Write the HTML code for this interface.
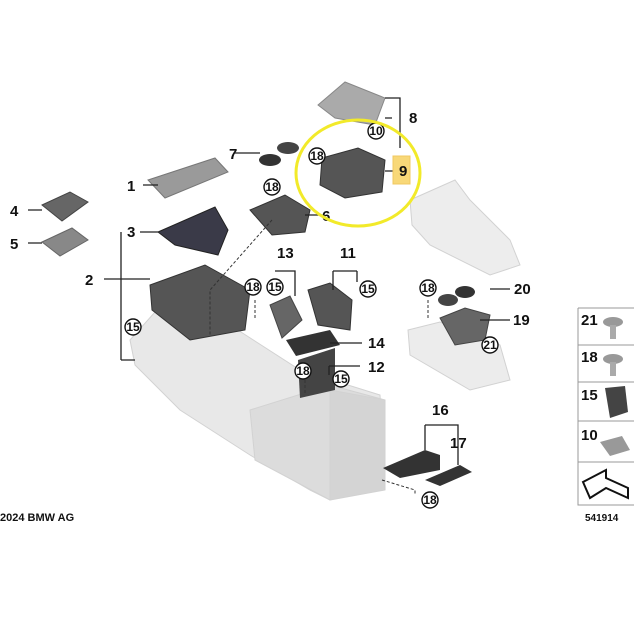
<!DOCTYPE html>
<html><head><meta charset="utf-8"><style>
body{margin:0;background:#fff;width:634px;height:623px;overflow:hidden}
svg{display:block}
text{font-family:"Liberation Sans",Arial,sans-serif;font-weight:bold;fill:#111}
.l{stroke:#222;stroke-width:1.3;fill:none}
.d{stroke:#333;stroke-width:1;fill:none;stroke-dasharray:3 2}
.c{fill:#fff;stroke:#111;stroke-width:1.4}
.ct{font-size:12px;text-anchor:middle}
.n{font-size:15px}
</style></head><body>
<svg width="634" height="623" viewBox="0 0 634 623">
<g fill="#e8e8e8" stroke="#d2d2d2" stroke-width="1">
<path d="M130 340 L155 312 L230 325 L300 370 L380 395 L385 480 L330 500 L310 490 L250 455 L180 410 L135 365 Z"/>
<path d="M250 410 L330 385 L385 400 L385 485 L330 500 L255 460 Z" fill="#dcdcdc"/>
<path d="M330 390 L385 400 L385 490 L330 500 Z" fill="#d4d4d4"/>
<path d="M410 200 L455 180 L470 200 L510 240 L520 265 L490 275 L430 245 L412 225 Z" fill="#ededed"/>
<path d="M408 330 L440 322 L500 345 L510 380 L470 390 L410 355 Z" fill="#ececec"/>
</g>
<path d="M148 180 L215 158 L228 172 L165 198 Z" fill="#9a9a9a" stroke="#777"/>
<path d="M42 205 L70 192 L88 202 L62 221 Z" fill="#666" stroke="#444"/>
<path d="M42 242 L72 228 L88 240 L60 256 Z" fill="#888" stroke="#666"/>
<path d="M158 232 L215 207 L228 230 L218 255 L175 245 Z" fill="#3a3a48" stroke="#222"/>
<path d="M150 285 L205 265 L250 290 L245 330 L190 340 L152 310 Z" fill="#555" stroke="#333"/>
<ellipse cx="270" cy="160" rx="11" ry="6" fill="#333"/><ellipse cx="288" cy="148" rx="11" ry="6" fill="#444"/>
<path d="M250 210 L285 195 L310 210 L305 232 L272 235 Z" fill="#555" stroke="#333"/>
<path d="M322 158 L358 148 L385 160 L382 192 L345 198 L320 185 Z" fill="#555" stroke="#333"/>
<path d="M318 105 L345 82 L385 98 L375 125 L335 118 Z" fill="#aaa" stroke="#888"/>
<path d="M270 305 L290 296 L302 320 L282 338 Z" fill="#666" stroke="#444"/>
<path d="M308 290 L330 283 L352 300 L350 330 L318 325 Z" fill="#555" stroke="#333"/>
<path d="M286 340 L330 330 L340 345 L296 356 Z" fill="#333"/>
<path d="M298 360 L335 348 L335 390 L300 398 Z" fill="#444"/>
<path d="M383 468 L425 450 L440 455 L440 470 L400 478 Z" fill="#333"/>
<path d="M425 480 L460 465 L472 472 L440 486 Z" fill="#333"/>
<ellipse cx="448" cy="300" rx="10" ry="6" fill="#444"/><ellipse cx="465" cy="292" rx="10" ry="6" fill="#333"/>
<path d="M440 318 L465 308 L490 315 L485 340 L455 345 Z" fill="#666" stroke="#444"/>
<path class="l" d="M143 185 H158 M28 210 H42 M28 243 H42 M140 232 H158 M121 232 V360 M121 360 H135 M104 279 H150 M234 153 H260 M305 215 H322 M385 98 H400 V148 M385 118 H392 M385 171 H396 M275 271 H295 V296 M333 271 H357 M333 271 V290 M357 271 V282 M330 343 H362 M329 366 H360 M329 366 V375 M425 425 V450 M425 425 H458 V465 M490 289 H510 M480 320 H510"/>
<path class="d" d="M272 220 L210 290 V335 M255 300 V320 M372 130 V140 M305 380 V395 M428 300 V320 M382 480 L415 490 V495"/>
<rect x="393" y="156" width="17" height="28" fill="#f8d878" stroke="#f0c860"/>
<text class="n" x="127" y="191">1</text>
<text class="n" x="85" y="285">2</text>
<text class="n" x="127" y="237">3</text>
<text class="n" x="10" y="216">4</text>
<text class="n" x="10" y="249">5</text>
<text class="n" x="322" y="221">6</text>
<text class="n" x="229" y="159">7</text>
<text class="n" x="409" y="123">8</text>
<text class="n" x="399" y="176">9</text>
<text class="n" x="277" y="258">13</text>
<text class="n" x="340" y="258">11</text>
<text class="n" x="368" y="348">14</text>
<text class="n" x="368" y="372">12</text>
<text class="n" x="432" y="415">16</text>
<text class="n" x="450" y="448">17</text>
<text class="n" x="513" y="325">19</text>
<text class="n" x="514" y="294">20</text>
<g class="c"><circle cx="133" cy="327" r="8"/><circle cx="272" cy="187" r="8"/><circle cx="253" cy="287" r="8"/><circle cx="275" cy="287" r="8"/><circle cx="317" cy="156" r="8"/><circle cx="376" cy="131" r="8"/><circle cx="368" cy="289" r="8"/><circle cx="303" cy="371" r="8"/><circle cx="341" cy="379" r="8"/><circle cx="428" cy="288" r="8"/><circle cx="490" cy="345" r="8"/><circle cx="430" cy="500" r="8"/></g>
<g class="ct"><text x="133" y="331">15</text><text x="272" y="191">18</text><text x="253" y="291">18</text><text x="275" y="291">15</text><text x="317" y="160">18</text><text x="376" y="135">10</text><text x="368" y="293">15</text><text x="303" y="375">18</text><text x="341" y="383">15</text><text x="428" y="292">18</text><text x="490" y="349">21</text><text x="430" y="504">18</text></g>
<ellipse cx="358" cy="173" rx="62" ry="53" fill="none" stroke="#f2ea2a" stroke-width="3"/>
<g fill="none" stroke="#999" stroke-width="1"><path d="M578 308 H634 M578 308 V505 H634 M578 345 H634 M578 382 H634 M578 421 H634 M578 462 H634"/></g>
<g font-size="15"><text x="581" y="325">21</text><text x="581" y="362">18</text><text x="581" y="400">15</text><text x="581" y="440">10</text></g>
<ellipse cx="613" cy="322" rx="10" ry="5" fill="#999"/><rect x="610" y="325" width="6" height="14" fill="#aaa"/>
<ellipse cx="613" cy="359" rx="10" ry="5" fill="#999"/><rect x="610" y="362" width="6" height="14" fill="#aaa"/>
<path d="M605 388 L625 386 L628 412 L610 418 Z" fill="#444"/>
<path d="M600 442 L622 436 L630 450 L610 456 Z" fill="#999"/>
<path d="M583 482 L606 470 L606 478 L628 488 L628 498 L606 488 L590 498 Z" fill="none" stroke="#111" stroke-width="2"/>
<text x="585" y="521" font-size="10" font-weight="normal" fill="#555">541914</text>
<text x="0" y="521" font-size="11" font-weight="normal" fill="#222">2024 BMW AG</text>
</svg>
</body></html>
